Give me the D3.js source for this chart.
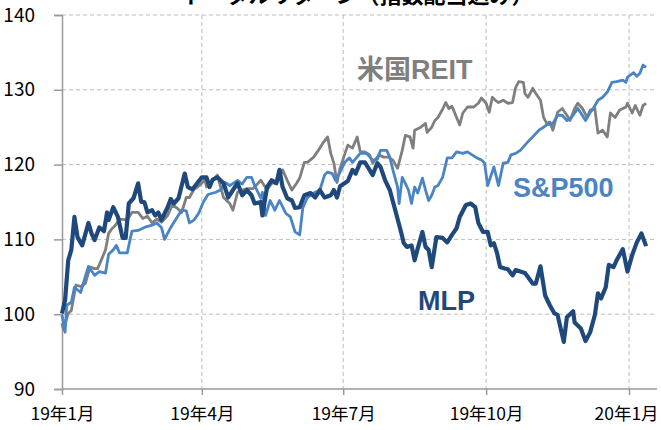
<!DOCTYPE html>
<html>
<head>
<meta charset="utf-8">
<script src="https://cdn.jsdelivr.net/npm/d3@7"></script>
<style>
  body { margin: 0; background: #fff; }
  svg { display: block; font-family: 'Noto Sans CJK JP', 'Noto Sans', sans-serif; }
</style>
</head>
<body>
<svg id="chart" width="661" height="430"></svg>
<script>
'use strict';

// days counted from 2019-01-01, value = index (2018-12-31 = 100)
const reit = [[0,98.8],[1,97.9],[4,100.1],[6,100.5],[9,103.9],[12,103.7],[15,104.1],[18,106.3],[21,106.1],[23,106.1],
  [26,107.6],[28,108.6],[30,110.8],[32,111.4],[34,111.8],[37,112.7],[42,112.6],[45,113.6],[49,113.6],[52,112.8],
  [55,113.1],[58,112.2],[61,112.7],[64,112.3],[68,113.2],[71,114.6],[74,114.2],[77,113.6],[80,115.6],[82,115.6],
  [85,116.7],[89,117.3],[92,118.0],[93,117.0],[97,117.9],[100,118.6],[104,115.6],[106,115.2],[108,114.8],[110,113.9],
  [113,116.3],[116,116.6],[119,116.8],[123,116.8],[128,117.9],[132,116.6],[135,117.5],[138,117.6],[142,119.3],[145,117.9],
  [148,116.6],[151,117.5],[153,118.2],[156,120.3],[158,120.3],[162,121.0],[165,121.9],[168,122.9],[171,123.7],[173,121.5],
  [175,120.2],[177,117.6],[179,119.5],[182,121.4],[184,122.6],[187,122.2],[190,123.7],[192,121.7],[195,121.7],[198,121.3],
  [200,120.2],[204,121.3],[207,121.0],[210,121.0],[213,120.6],[216,119.5],[219,121.9],[221,123.9],[224,123.7],[226,122.2],
  [227,124.6],[231,125.0],[234,125.5],[235,124.3],[238,125.0],[240,125.9],[242,126.3],[245,127.4],[247,128.3],[249,127.5],
  [251,127.8],[254,126.3],[256,125.3],[258,126.9],[261,127.7],[265,127.7],[268,128.2],[270,128.9],[273,128.2],[275,127.0],
  [277,129.0],[279,128.6],[281,128.3],[284,128.6],[287,128.2],[290,128.3],[292,130.3],[294,131.1],[297,131.0],[298,129.5],
  [300,129.0],[303,130.2],[305,129.5],[308,128.6],[310,126.3],[312,125.5],[314,125.7],[316,124.6],[319,127.0],[322,127.5],
  [325,126.6],[327,125.9],[330,127.5],[332,128.2],[335,127.5],[338,126.3],[340,127.3],[343,127.5],[345,124.2],[348,124.6],
  [351,123.7],[353,126.9],[356,126.3],[359,127.3],[363,127.7],[364,128.2],[367,126.9],[369,127.9],[372,126.6],[374,127.9],
  [376,128.2]];

const sp500 = [[0,99.9],[2,97.6],[3,101.2],[6,101.6],[8,103.6],[12,102.9],[17,106.4],[21,105.2],[24,105.7],[28,105.5],
  [30,108.0],[33,108.6],[35,109.2],[37,108.2],[42,108.2],[45,111.1],[49,111.2],[53,111.6],[58,111.9],[61,112.2],
  [64,111.6],[66,110.0],[70,111.6],[73,112.6],[77,113.9],[80,113.8],[82,112.2],[85,112.6],[88,113.5],[91,115.0],
  [94,116.0],[99,116.3],[102,116.6],[105,117.6],[108,117.2],[113,117.9],[116,117.4],[119,118.3],[122,118.3],[124,117.2],
  [128,115.5],[129,116.3],[131,113.2],[134,115.2],[137,113.9],[140,115.2],[144,113.5],[147,113.0],[150,111.0],[153,110.6],
  [155,114.2],[158,115.6],[162,116.2],[166,116.6],[169,118.6],[171,119.0],[174,118.8],[176,117.9],[179,119.0],[182,120.3],
  [185,120.9],[187,120.3],[192,121.5],[196,121.5],[200,120.6],[203,120.7],[205,121.9],[209,121.9],[211,121.0],[213,119.3],
  [216,117.0],[217,114.8],[219,118.3],[221,117.5],[223,116.6],[225,114.8],[227,117.0],[229,116.2],[232,118.2],[234,116.6],
  [236,115.2],[238,115.9],[240,117.0],[242,117.2],[245,118.3],[248,120.9],[251,120.9],[254,121.7],[258,121.5],[261,121.7],
  [264,121.3],[267,120.9],[270,120.6],[272,120.2],[274,117.2],[278,119.7],[281,117.2],[284,120.2],[287,120.3],[289,121.3],
  [292,121.5],[295,121.9],[298,122.6],[301,123.3],[303,123.7],[307,124.6],[310,125.0],[312,125.3],[316,125.5],[319,126.6],
  [322,126.6],[325,125.9],[328,126.3],[332,127.5],[334,126.9],[337,125.9],[340,127.0],[342,127.5],[345,128.6],[348,129.0],
  [351,129.7],[354,131.0],[357,131.1],[361,131.3],[363,131.0],[364,131.7],[368,132.3],[370,131.8],[372,132.2],[374,133.3],
  [376,133.0]];

const mlp = [[0,100.1],[2,101.9],[4,107.2],[6,108.6],[8,113.0],[10,110.3],[13,109.2],[17,112.2],[19,110.8],[21,109.9],
  [24,111.6],[27,111.1],[29,113.6],[30,112.6],[33,114.3],[36,113.0],[39,110.2],[41,110.2],[43,114.8],[46,115.5],
  [49,117.5],[51,115.0],[53,115.0],[55,113.6],[58,113.9],[60,113.2],[62,113.6],[64,112.6],[68,114.3],[70,115.4],
  [72,114.8],[75,115.5],[79,118.8],[81,117.0],[84,116.7],[87,117.5],[90,118.3],[93,118.3],[95,117.0],[97,118.0],
  [100,118.3],[104,117.5],[107,115.6],[110,116.6],[113,117.5],[116,115.9],[119,116.6],[122,115.9],[124,114.8],[128,115.0],
  [129,113.2],[132,117.0],[135,117.9],[138,117.5],[140,119.3],[142,117.0],[145,115.5],[148,115.2],[150,114.2],[153,114.3],
  [156,115.9],[160,116.2],[163,115.6],[166,116.6],[169,115.6],[173,115.9],[175,116.6],[177,115.6],[179,117.1],[184,117.8],
  [187,119.3],[189,118.8],[192,120.3],[195,120.3],[198,119.3],[200,118.6],[203,120.2],[205,119.7],[208,117.9],[211,116.6],
  [214,114.3],[218,111.2],[220,109.5],[222,109.0],[225,109.2],[227,107.2],[229,108.8],[232,111.0],[234,109.0],[236,108.6],
  [238,106.3],[241,110.3],[245,110.2],[248,109.6],[251,110.6],[254,111.5],[256,113.0],[260,114.6],[263,114.8],[266,114.3],
  [268,112.2],[271,111.0],[274,111.0],[276,109.2],[278,109.5],[280,108.2],[282,106.3],[285,106.1],[287,106.0],[290,105.2],
  [292,105.9],[295,105.7],[298,105.5],[303,104.1],[305,104.1],[308,106.4],[311,102.5],[314,101.2],[317,100.1],[319,99.9],
  [323,96.3],[325,99.6],[329,100.4],[330,98.9],[334,98.1],[337,96.4],[340,97.6],[343,99.9],[345,102.8],[347,102.1],
  [350,103.6],[352,106.6],[355,106.3],[357,107.2],[361,108.7],[364,105.7],[367,107.9],[370,109.6],[373,110.8],[376,109.1]];

const yTicks = [90, 100, 110, 120, 130, 140];
const xTickDates = ['2019-01-01', '2019-04-01', '2019-07-01', '2019-10-01', '2020-01-01'];
const xTickLabels = ['19年1月', '19年4月', '19年7月', '19年10月', '20年1月'];

const startDate = new Date(2019, 0, 1);
const toDate = (d) => d3.timeDay.offset(startDate, d);
const parse = d3.timeParse('%Y-%m-%d');

const svg = d3.select('#chart');

const x = d3.scaleTime()
    .domain([startDate, new Date(2020, 0, 19)])
    .range([62, 657]);
const y = d3.scaleLinear()
    .domain([90, 140])
    .range([389, 15]);

// title, mostly above the top edge as in the source
svg.append('text')
    .attr('x', 358)
    .attr('y', 3)
    .attr('text-anchor', 'middle')
    .style('font-size', '22px')
    .style('font-weight', 'bold')
    .attr('fill', '#000')
    .text('トータルリターン（指数配当込み）');

// grid
svg.append('g')
    .selectAll('line')
    .data(yTicks.filter((v) => v > 90))
    .enter().append('line')
    .attr('x1', 62).attr('x2', 657)
    .attr('y1', (d) => y(d)).attr('y2', (d) => y(d))
    .attr('stroke', '#bdbdbd')
    .attr('stroke-width', 1)
    .attr('stroke-dasharray', '4,3');
svg.append('g')
    .selectAll('line')
    .data(xTickDates.slice(1).map(parse))
    .enter().append('line')
    .attr('x1', (d) => x(d)).attr('x2', (d) => x(d))
    .attr('y1', 15).attr('y2', 389)
    .attr('stroke', '#bdbdbd')
    .attr('stroke-width', 1)
    .attr('stroke-dasharray', '4,3');

// axes
const yAxis = svg.append('g')
    .attr('transform', 'translate(62,0)')
    .call(d3.axisLeft(y).tickValues(yTicks).tickSize(8).tickPadding(19));
const xAxis = svg.append('g')
    .attr('transform', 'translate(0,389)')
    .call(d3.axisBottom(x)
        .tickValues(xTickDates.map(parse))
        .tickFormat((d, i) => xTickLabels[i])
        .tickSize(6).tickPadding(13));

[yAxis, xAxis].forEach((g) => {
  g.select('.domain').attr('stroke', '#999').attr('stroke-width', 1.5);
  g.selectAll('.tick line').attr('stroke', '#999').attr('stroke-width', 1.5);
  g.selectAll('text').attr('fill', '#000').attr('font-family', "'Noto Sans CJK JP', sans-serif");
});
yAxis.selectAll('text').style('font-size', '19px');
xAxis.selectAll('text').style('font-size', '17.5px');
// keep the last month label inside the frame
xAxis.selectAll('.tick text').filter((d, i) => i === xTickLabels.length - 1).attr('dx', -3);
xAxis.select('.domain').attr('d', 'M62,0H657');

// lines
const line = d3.line()
    .x((d) => x(toDate(d[0])))
    .y((d) => y(d[1]))
    .curve(d3.curveLinear);

const series = [
  {data: reit, color: '#7f7f7f', width: 2.8},
  {data: sp500, color: '#4a84c4', width: 2.8},
  {data: mlp, color: '#1f497d', width: 4.2}
];
svg.append('g')
    .selectAll('path')
    .data(series)
    .enter().append('path')
    .attr('fill', 'none')
    .attr('stroke', (d) => d.color)
    .attr('stroke-width', (d) => d.width)
    .attr('stroke-linejoin', 'round')
    .attr('d', (d) => line(d.data));

// labels
const labels = [
  {text: '米国REIT', x: 357, y: 79, color: '#7f7f7f'},
  {text: 'S&P500', x: 513, y: 197, color: '#4a84c4'},
  {text: 'MLP', x: 418, y: 310, color: '#1f497d'}
];
svg.append('g')
    .selectAll('text')
    .data(labels)
    .enter().append('text')
    .attr('x', (d) => d.x)
    .attr('y', (d) => d.y)
    .attr('fill', (d) => d.color)
    .style('font-family', "'Liberation Sans', 'Noto Sans CJK JP', sans-serif")
    .style('font-size', '27px')
    .style('font-weight', 'bold')
    .text((d) => d.text);
</script>
</body>
</html>
